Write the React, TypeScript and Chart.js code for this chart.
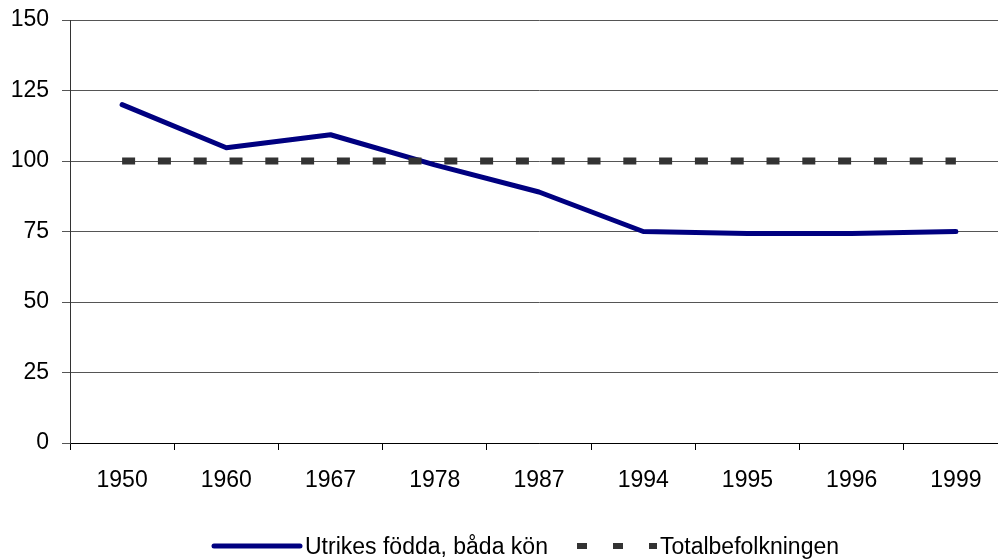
import React, { useEffect, useRef } from "react";
import { Chart, registerables } from "chart.js";

Chart.register(...registerables);

const categories = ["1950", "1960", "1967", "1978", "1987", "1994", "1995", "1996", "1999"];
const utrikesFodda = [120, 104.7, 109.3, 98.6, 89, 75, 74.3, 74.3, 75];
const totalbefolkningen = [100, 100, 100, 100, 100, 100, 100, 100, 100];
const seriesNames = ["Utrikes födda, båda kön", "Totalbefolkningen"];
const yTicks = [0, 25, 50, 75, 100, 125, 150];

const FONT = "'Liberation Sans', Arial, sans-serif";
const CANVAS_W = 1012;
const CANVAS_H = 559;

const legendPlugin = {
  id: "customLegend",
  afterDraw(chart: any) {
    const ctx = chart.ctx;
    ctx.save();
    const y = 546;
    ctx.strokeStyle = "#000080";
    ctx.lineWidth = 5;
    ctx.lineCap = "round";
    ctx.setLineDash([]);
    ctx.beginPath();
    ctx.moveTo(214, y);
    ctx.lineTo(300, y);
    ctx.stroke();
    ctx.font = `23px ${FONT}`;
    ctx.fillStyle = "#000";
    ctx.textBaseline = "alphabetic";
    ctx.textAlign = "left";
    ctx.fillText(seriesNames[0], 305, 554);
    ctx.strokeStyle = "#333333";
    ctx.lineWidth = 6;
    ctx.lineCap = "butt";
    ctx.setLineDash([10, 26]);
    ctx.beginPath();
    ctx.moveTo(577, y);
    ctx.lineTo(657, y);
    ctx.stroke();
    ctx.setLineDash([]);
    ctx.fillText(seriesNames[1], 660, 554);
    ctx.restore();
  },
};

export default function App() {
  const ref = useRef<HTMLCanvasElement | null>(null);

  useEffect(() => {
    if (!ref.current) return;
    const chart = new Chart(ref.current, {
      type: "line",
      data: {
        labels: categories,
        datasets: [
          {
            label: seriesNames[1],
            data: totalbefolkningen,
            borderColor: "#333333",
            borderWidth: 7,
            borderDash: [13, 22.8],
            borderCapStyle: "butt",
            pointRadius: 0,
            fill: false,
            tension: 0,
          },
          {
            label: seriesNames[0],
            data: utrikesFodda,
            borderColor: "#000080",
            borderWidth: 5,
            borderCapStyle: "round",
            borderJoinStyle: "round",
            pointRadius: 0,
            fill: false,
            tension: 0,
          },
        ],
      },
      options: {
        responsive: false,
        animation: false,
        devicePixelRatio: 1,
        layout: { padding: { top: 20, left: 0, right: 4, bottom: 56 } },
        plugins: {
          legend: { display: false },
          tooltip: { enabled: false },
        },
        scales: {
          x: {
            type: "category",
            offset: true,
            grid: {
              offset: true,
              drawOnChartArea: false,
              drawTicks: true,
              tickLength: 7,
              color: "#000",
            },
            border: { display: true, color: "#000", width: 1 },
            ticks: {
              color: "#000",
              font: { family: FONT, size: 23 },
              padding: 17,
              maxRotation: 0,
              autoSkip: false,
            },
            afterFit(scale: any) {
              scale.height = 60;
              scale.paddingLeft = 0;
              scale.paddingRight = 0;
            },
          },
          y: {
            min: 0,
            max: 150,
            afterBuildTicks(scale: any) {
              scale.ticks = yTicks.map((v) => ({ value: v }));
            },
            grid: {
              color: "#555",
              lineWidth: 1,
              tickLength: 8,
              drawTicks: true,
            },
            border: { display: true, color: "#333", width: 1 },
            ticks: {
              color: "#000",
              font: { family: FONT, size: 23 },
              padding: 13,
            },
            afterFit(scale: any) {
              scale.width = 70;
              scale.paddingTop = 0;
              scale.paddingBottom = 0;
            },
          },
        },
      },
      plugins: [legendPlugin],
    } as any);
    return () => chart.destroy();
  }, []);

  return (
    <div
      style={{
        position: "fixed",
        left: 0,
        top: 0,
        width: 998,
        height: 559,
        overflow: "hidden",
        background: "#fff",
      }}
    >
      <canvas ref={ref} width={CANVAS_W} height={CANVAS_H} style={{ display: "block" }} />
    </div>
  );
}
